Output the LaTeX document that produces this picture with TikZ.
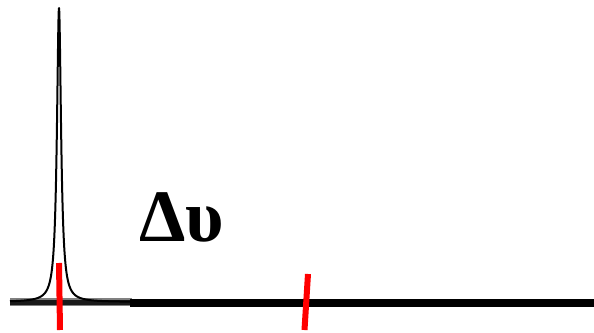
\documentclass[tikz,border=0pt]{standalone}
\usepackage{fontspec}
\setmainfont{Liberation Serif}
\usetikzlibrary{calc}
\definecolor{tickred}{HTML}{FF0000}
\definecolor{blurgrey}{HTML}{4A4A4A}
\tikzset{
  peakline/.style={line width=2pt, draw=black, line join=round},
  blurline/.style={line width=8pt, draw=blurgrey!70},
  blurcore/.style={line width=5pt, draw=black!90},
  axisline/.style={line width=8pt, draw=black},
  marker/.style={line width=6pt, draw=tickred},
  widthlabel/.style={font=\fontsize{74}{80}\selectfont\bfseries, inner sep=0pt, anchor=base west}
}
\begin{document}
\begin{tikzpicture}[x=1pt, y=1pt]
    \useasboundingbox (0,0) rectangle (594,332);
    % baseline, blurred part and sharp part
    \draw[blurline] (10,30) -- (132,30);
    \draw[blurcore] (10,30) -- (132,30);
    \draw[axisline] (130,29) -- (594,29);
    % the narrow line
    \draw[peakline] plot[domain=10:130, samples=500, smooth]
      (\x, {30 + 294*6.25/((\x-59)^2+6.25)});
    % linewidth label
    \node[widthlabel] (dnu) at (139,90) {Δυ};
    % red marks
    \coordinate (m1top) at (59,69);
    \coordinate (m1bot) at (60,2);
    \coordinate (m2top) at (308,58);
    \coordinate (m2bot) at (304.5,2);
    \draw[marker] (m1top) -- (m1bot);
    \draw[marker] (m2top) -- (m2bot);
\end{tikzpicture}
\end{document}
